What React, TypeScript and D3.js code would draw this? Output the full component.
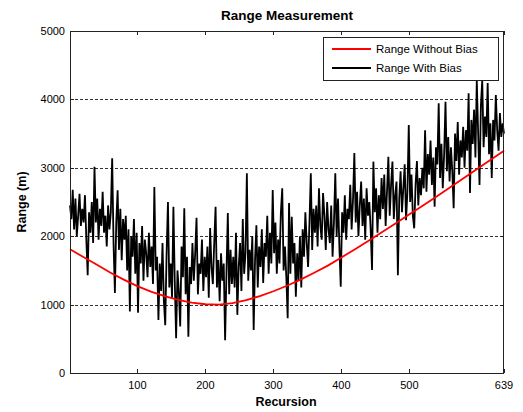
import React from 'react';
import * as d3 from 'd3';

const width = 523;
const height = 412;

// red curve: range without bias, read every 20 recursions
const trueSteps = [1, 20, 40, 60, 80, 100, 120, 140, 160, 180, 200, 220, 240, 260, 280, 300, 320, 340, 360, 380, 400, 420, 440, 460, 480, 500, 520, 540, 560, 580, 600, 620, 639];
const trueRange = [1810, 1700, 1585, 1470, 1365, 1270, 1190, 1125, 1070, 1030, 1005, 1000, 1020, 1065, 1125, 1195, 1275, 1365, 1465, 1570, 1690, 1810, 1935, 2060, 2190, 2320, 2450, 2580, 2715, 2850, 2985, 3120, 3250];

// black curve: range with bias, read every 2nd recursion (1, 3, 5 ... 639)
const biasedRange = [
  2450, 2250, 2680, 2100, 2550, 2000, 2300, 2620, 2150, 2400,
  2200, 2600, 1950, 1430, 2350, 2050, 2500, 1900, 3015, 2200,
  2550, 1950, 2400, 2150, 2650, 2050, 2300, 1850, 2450, 2100,
  2350, 3140, 1900, 1170, 2200, 2670, 1800, 2400, 1650, 2250,
  1950, 2300, 1500, 2100, 900, 2000, 1700, 2250, 1450, 2050,
  880, 1900, 1600, 2150, 1350, 1950, 1750, 1400, 2050, 1550,
  1850, 1300, 2720, 1500, 1700, 775, 1600, 1200, 1900, 1050,
  700, 1750, 2500, 1250, 1600, 1100, 2430, 1350, 510, 1500,
  1200, 680, 1850, 1400, 2410, 1150, 1700, 530, 1550, 1300,
  1900, 1350, 1750, 2270, 1150, 1600, 1450, 1950, 1200, 1700,
  1400, 1850, 1100, 2120, 1550, 1300, 1900, 2430, 1250, 1650,
  1050, 1750, 1350, 1600, 480, 1450, 2340, 1150, 1800, 1300,
  1700, 1250, 2050, 850, 1550, 1900, 1200, 2250, 1450, 1750,
  2920, 1350, 1800, 1500, 2000, 630, 1650, 2160, 1250, 1850,
  1550, 2100, 1315, 1900, 1700, 2300, 1450, 2050, 1600, 2675,
  1750, 2200, 1450, 1950, 1600, 2350, 2700, 1500, 1850, 1400,
  800, 2485, 1450, 2285, 1600, 1900, 1115, 1750, 1350, 2000,
  1250, 2100, 1700, 2350, 1900, 1550, 2200, 2920, 1800, 2400,
  2050, 2450, 1850, 2700, 2150, 1950, 2630, 2300, 1800, 2500,
  2100, 1900, 2450, 1700, 2200, 2920, 2000, 2550, 1850, 1260,
  2350, 2050, 2600, 1950, 2400, 2250, 2750, 2100, 2530, 3215,
  2200, 2650, 2000, 2450, 2800, 2150, 2550, 1950, 2700, 2300,
  2500, 2100, 1505, 3090, 2350, 2700, 2050, 2600, 2250, 2850,
  2400, 2900, 2150, 2650, 3160, 2300, 2750, 3090, 2250, 2600,
  2800, 1430, 2550, 2950, 2350, 2700, 3050, 2235, 2650, 3625,
  2500, 2900, 2300, 2115, 2750, 3100, 2450, 2850, 2600, 3000,
  2700, 3550, 2650, 3200, 2900, 3400, 2750, 3150, 2430, 3300,
  3050, 3945, 2850, 3350, 2700, 3200, 3965, 2950, 3450, 2800,
  3300, 2950, 2410, 3500, 3100, 3670, 2900, 3400, 3150, 3600,
  3000, 3550, 3250, 4090, 2630, 3700, 3350, 3850, 3150, 4280,
  3500, 2750, 3900, 4280, 3300, 3750, 3450, 4240, 3200, 3650,
  2850, 3700, 3400, 4065, 3550, 3250, 3800, 3450, 3650, 3500,
];

const xTicks = [100, 200, 300, 400, 500, 639];
const yTicks = [0, 1000, 2000, 3000, 4000, 5000];
const yGrid = [1000, 2000, 3000, 4000];
const legendLabels = ['Range Without Bias', 'Range With Bias'];
const legendColors = ['#ff0000', '#000000'];

const font = 'Arial, "Liberation Sans", Helvetica, sans-serif';

const App = () => {
  const left = 70;
  const right = 504;
  const top = 31;
  const bottom = 373;

  const x = d3.scaleLinear().domain([1, 639]).range([left, right]);
  const y = d3.scaleLinear().domain([0, 5000]).range([bottom, top]);

  const line = d3
    .line<[number, number]>()
    .x((d) => x(d[0]))
    .y((d) => y(d[1]));

  const redPts: [number, number][] = trueSteps.map((t, i) => [t, trueRange[i]]);
  const blackPts: [number, number][] = biasedRange.map((v, i) => [1 + i * 2, v]);

  return (
    <svg
      width={width}
      height={height}
      style={{ position: 'absolute', left: 0, top: 0, background: '#fff' }}
      fontFamily={font}
    >
      <rect x={0} y={0} width={width} height={height} fill="#fff" />

      {/* dashed horizontal grid */}
      {yGrid.map((v) => (
        <line
          key={'g' + v}
          x1={left}
          x2={right}
          y1={Math.round(y(v)) + 0.5}
          y2={Math.round(y(v)) + 0.5}
          stroke="#333"
          strokeWidth={1}
          strokeDasharray="3,2"
        />
      ))}

      <path d={line(blackPts) ?? ''} fill="none" stroke="#000" strokeWidth={1.8} strokeLinejoin="miter" strokeMiterlimit={2} />
      <path d={line(redPts) ?? ''} fill="none" stroke="#ff0000" strokeWidth={1.8} />

      {/* frame */}
      <rect x={left + 0.5} y={top + 0.5} width={right - left - 1} height={bottom - top} fill="none" stroke="#222" />

      {/* x ticks (inside, top and bottom) */}
      {xTicks.map((t) => (
        <g key={'x' + t}>
          <line x1={Math.round(x(t)) + 0.5} x2={Math.round(x(t)) + 0.5} y1={bottom} y2={bottom - 4} stroke="#222" />
          <line x1={Math.round(x(t)) + 0.5} x2={Math.round(x(t)) + 0.5} y1={top} y2={top + 4} stroke="#222" />
          <text x={x(t)} y={bottom + 16} textAnchor="middle" fontSize={11} fill="#000">
            {t}
          </text>
        </g>
      ))}

      {/* y ticks (inside, left and right) */}
      {yTicks.map((v) => (
        <g key={'y' + v}>
          <line x1={left} x2={left + 4} y1={Math.round(y(v)) + 0.5} y2={Math.round(y(v)) + 0.5} stroke="#222" />
          <line x1={right - 4} x2={right} y1={Math.round(y(v)) + 0.5} y2={Math.round(y(v)) + 0.5} stroke="#222" />
          <text x={left - 5} y={y(v) + 4} textAnchor="end" fontSize={11} fill="#000">
            {v}
          </text>
        </g>
      ))}

      <text x={287} y={20} textAnchor="middle" fontSize={13.5} fontWeight="bold">
        Range Measurement
      </text>
      <text x={286} y={406} textAnchor="middle" fontSize={12.5} fontWeight="bold">
        Recursion
      </text>
      <text
        transform={`translate(26, ${(top + bottom) / 2}) rotate(-90)`}
        textAnchor="middle"
        fontSize={12.5}
        fontWeight="bold"
      >
        Range (m)
      </text>

      {/* legend */}
      <g>
        <rect x={323.5} y={37.5} width={175} height={43} fill="#fff" stroke="#222" />
        {legendLabels.map((label, i) => (
          <g key={label}>
            <line x1={332} x2={371} y1={49 + i * 19} y2={49 + i * 19} stroke={legendColors[i]} strokeWidth={2} />
            <text x={376} y={53 + i * 19} fontSize={11.5} fill="#000">
              {label}
            </text>
          </g>
        ))}
      </g>
    </svg>
  );
};

export default App;
